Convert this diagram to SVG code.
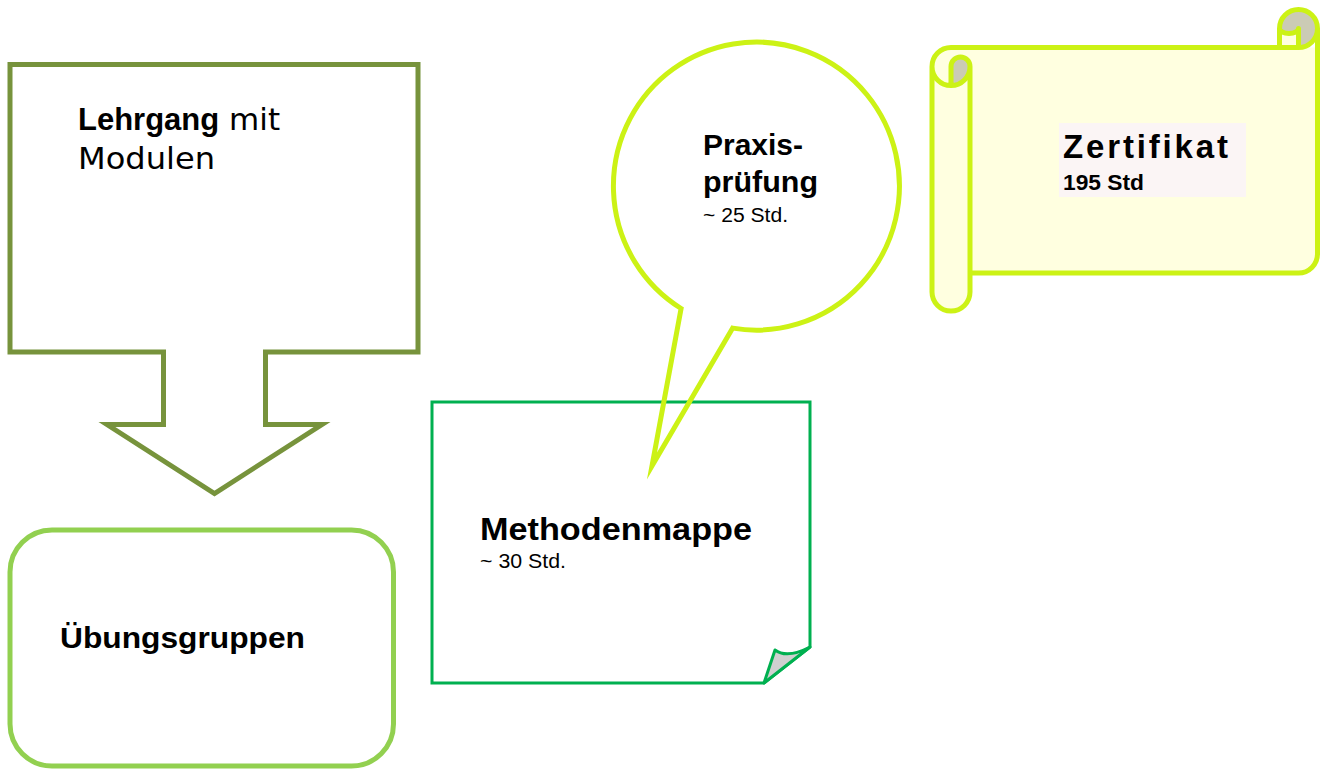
<svg xmlns="http://www.w3.org/2000/svg" width="1323" height="769" viewBox="0 0 1323 769">
<style>
.b{font-family:"Liberation Sans",Arial,sans-serif;font-weight:bold;fill:#000}
.r{font-family:"DejaVu Sans","Liberation Sans",sans-serif;font-weight:normal;fill:#000}
.s{font-family:"Liberation Sans",Arial,sans-serif;font-weight:normal;fill:#000}
.yl{stroke:#CCF215;stroke-width:5;stroke-linejoin:round;stroke-linecap:round}
</style>
<rect width="1323" height="769" fill="#FFFFFF"/>
<g id="lehrgang">
<path d="M10,64.5 L418,64.5 L418,352 L265.5,352 L265.5,424.5 L322,424.5 L214.5,493.5 L107,424.5 L163.5,424.5 L163.5,352 L10,352 Z" fill="#FFFFFF" stroke="#77933C" stroke-width="5" stroke-linejoin="miter"/>
<text x="78" y="130" font-size="31"><tspan class="b">Lehrgang</tspan><tspan class="r"> mit</tspan></text>
<text class="r" x="78" y="169" font-size="31" textLength="137" lengthAdjust="spacingAndGlyphs">Modulen</text>
</g>
<g id="uebungsgruppen">
<rect x="10" y="530" width="383.5" height="236" rx="42" ry="42" fill="#FFFFFF" stroke="#92D050" stroke-width="5"/>
<text class="b" x="60" y="648" font-size="29" textLength="245" lengthAdjust="spacingAndGlyphs">Übungsgruppen</text>
</g>
<g id="methodenmappe">
<path d="M432,402 L810,402 L810,647 L764,683 L432,683 Z" fill="#FFFFFF" stroke="#00B050" stroke-width="3" stroke-linejoin="miter"/>
<path d="M764,683 L775,650 Q787,659 810,647 Z" fill="#D0D0D0" stroke="#00B050" stroke-width="3" stroke-linejoin="round"/>
<text class="b" x="480" y="540" font-size="31" textLength="272" lengthAdjust="spacingAndGlyphs">Methodenmappe</text>
<text class="s" x="480" y="568" font-size="20" textLength="86" lengthAdjust="spacingAndGlyphs">~ 30 Std.</text>
</g>
<g id="praxispruefung">
<path d="M732.7,328.1 L652,466 L681.1,308.5 A143 144 0 1 1 732.7,328.1 Z" fill="none" stroke="#CCF215" stroke-width="5" stroke-linejoin="miter" stroke-miterlimit="6"/>
<text class="b" x="703" y="155" font-size="30" textLength="100" lengthAdjust="spacingAndGlyphs">Praxis-</text>
<text class="b" x="703" y="192" font-size="30" textLength="115" lengthAdjust="spacingAndGlyphs">prüfung</text>
<text class="s" x="703" y="222" font-size="20" textLength="85" lengthAdjust="spacingAndGlyphs">~ 25 Std.</text>
</g>
<g id="zertifikat">
<path d="M951,47.5 L1317.5,47.5 L1317.5,254 A19 19 0 0 1 1298.5,273 L970,273 L970,292 A19 19 0 0 1 932,292 L932,66.5 A19 19 0 0 1 951,47.5 Z" fill="#FFFFE0"/>
<circle cx="1298.5" cy="28.5" r="19" fill="#CBCBB5"/>
<path d="M1279.5,47.5 L1279.5,28.5 A9.5 5 0 0 0 1298.5,28.5 L1298.5,47.5 Z" fill="#FFFFE0"/>
<path d="M951,85.5 A19 19 0 0 0 970,66.5 A9.5 9.5 0 0 0 951,66.5 Z" fill="#CBCBB5"/>
<path class="yl" fill="none" d="M932,66.5 A19 19 0 0 1 951,47.5 L1298.5,47.5 M1279.5,47.5 L1279.5,28.5 A19 19 0 0 1 1317.5,28.5 L1317.5,254 A19 19 0 0 1 1298.5,273 L970,273 M1298.5,47.5 A19 19 0 0 0 1317.5,28.5 M1298.5,47.5 L1298.5,28.5 A9.5 5 0 0 1 1279.5,28.5 M970,273 L970,292 A19 19 0 0 1 932,292 L932,66.5 M970,66.5 L970,273 M951,85.5 L951,66.5 A9.5 9.5 0 0 1 970,66.5 A19 19 0 0 1 932,66.5"/>
<rect x="1059" y="123" width="187" height="74" fill="#FBF5F5"/>
<text class="b" x="1063" y="158" font-size="33" textLength="165" lengthAdjust="spacing">Zertifikat</text>
<text class="b" x="1063" y="190" font-size="22" textLength="81" lengthAdjust="spacingAndGlyphs">195 Std</text>
</g>
<g id="connectors"/>
</svg>
